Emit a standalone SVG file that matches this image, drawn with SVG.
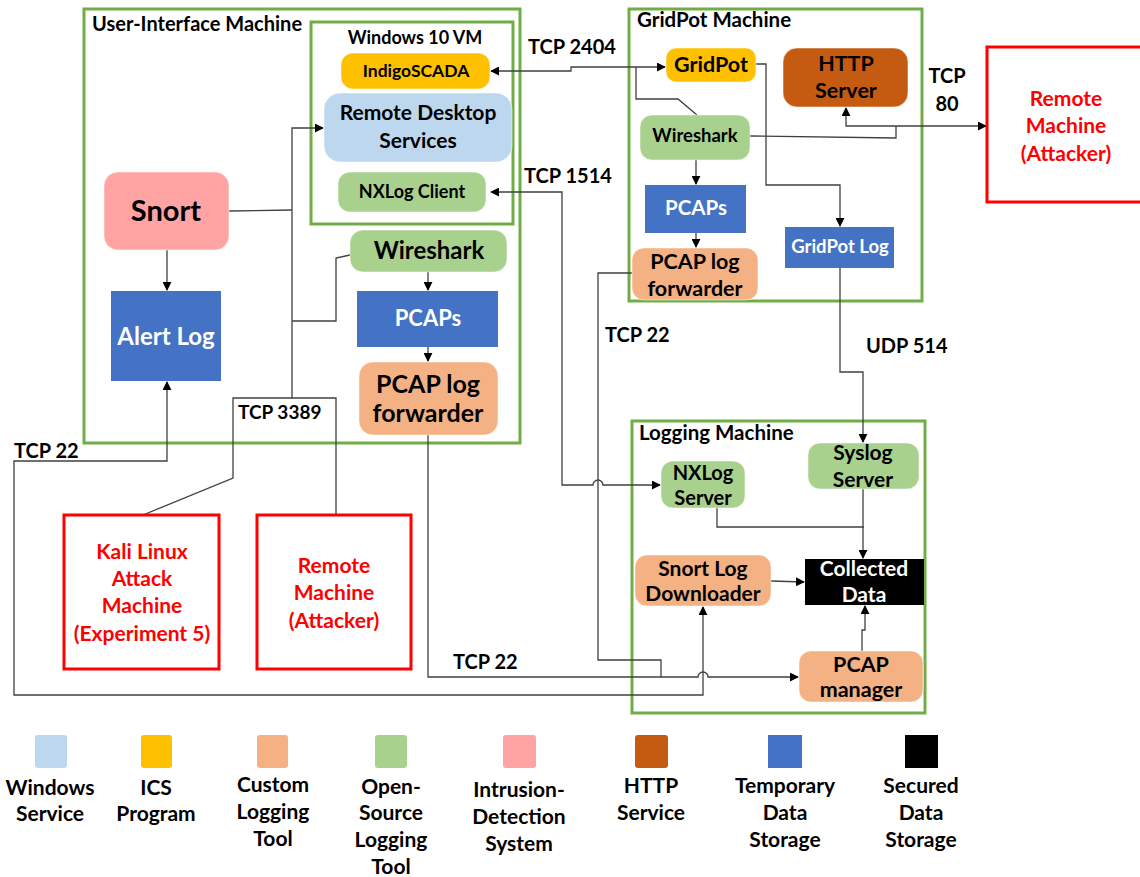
<svg xmlns="http://www.w3.org/2000/svg" width="1140" height="877" viewBox="0 0 1140 877">
<defs>
<marker id="ah" viewBox="0 0 10 10" refX="9" refY="5" markerWidth="9" markerHeight="9" markerUnits="userSpaceOnUse" orient="auto-start-reverse">
<path d="M0,0 L10,5 L0,10 z" fill="#000"/>
</marker>
<style>
text{font-family:Lato,"Open Sans","Liberation Sans",sans-serif;font-weight:bold;fill:#000;text-anchor:middle}
.title{text-anchor:start;font-size:20.5px}
.mach{fill:none;stroke:#70AD47;stroke-width:3}
.att{fill:#fff;stroke:#FF0000;stroke-width:3}
.att-t{fill:#FF0000;font-size:21px}
.win{fill:#BDD7EE}
.ics{fill:#FFC000}
.cust{fill:#F4B183}
.open{fill:#A9D18E}
.ids{fill:#FFA3A3}
.http{fill:#C55A11}
.tmp{fill:#4472C4}
.sec{fill:#000}
.n{stroke:#fff;stroke-opacity:0.5;stroke-width:1}
.wt{fill:#fff}
.lbl{font-size:20px;text-anchor:start}
.lg{font-size:21px}
#conn path{fill:none;stroke:#404040;stroke-width:1.3}
</style>
</defs>
<rect width="1140" height="877" fill="#fff"/>

<g id="ui-machine">
<rect class="mach" x="84" y="9" width="436" height="434"/>
<text class="title" x="92" y="31" style="font-size:20px">User-Interface Machine</text>
</g>
<g id="win10-vm">
<rect class="mach" x="311" y="22" width="202" height="202"/>
<text x="415" y="44" style="font-size:18px">Windows 10 VM</text>
</g>
<g id="gridpot-machine">
<rect class="mach" x="629" y="9" width="293" height="292"/>
<text class="title" x="637" y="27">GridPot Machine</text>
</g>
<g id="logging-machine">
<rect class="mach" x="632" y="421" width="293" height="292"/>
<text class="title" x="639" y="440">Logging Machine</text>
</g>

<g id="conn">
<!-- UI internal -->
<path d="M229,211 L292,210"/>
<path d="M292,398 L292,128 L323,128" marker-end="url(#ah)"/>
<path d="M350,255 L336,258 L336,321 L292,321"/>
<path d="M167,250 L167,290" marker-end="url(#ah)"/>
<path d="M428,272 L428,290" marker-end="url(#ah)"/>
<path d="M428,347 L428,361" marker-end="url(#ah)"/>
<!-- TCP 3389 -->
<path d="M143,515 L233,478 L233,398 L336,398 L336,515"/>
<!-- TCP 22 alert log / snort downloader -->
<path d="M167,382 L167,461 L14,461 L14,695 L703,695 L703,607" marker-start="url(#ah)" marker-end="url(#ah)"/>
<!-- UI PCAP forwarder to PCAP manager -->
<path d="M428,435 L428,677 L698,677 A5,5 0 0 1 708,677 L798,677" marker-end="url(#ah)"/>
<!-- GridPot PCAP forwarder -->
<path d="M632,273 L598,273 L598,660 L661,660 L661,677"/>
<!-- TCP 1514 -->
<path d="M491,192 L562,192 L562,485 L593,485 A5,5 0 0 1 603,485 L660,485" marker-start="url(#ah)" marker-end="url(#ah)"/>
<!-- TCP 2404 -->
<path d="M491,71 L571,71 L571,67 L665,67" marker-start="url(#ah)" marker-end="url(#ah)"/>
<path d="M636,67 L636,99 L678,99 L697,115"/>
<!-- GridPot internals -->
<path d="M756,64 L766,64 L766,185 L840,185 L840,226" marker-end="url(#ah)"/>
<path d="M696,160 L696,184" marker-end="url(#ah)"/>
<path d="M696,233 L696,247" marker-end="url(#ah)"/>
<!-- TCP 80 -->
<path d="M846,108 L846,126 L986,126" marker-start="url(#ah)" marker-end="url(#ah)"/>
<path d="M750,136 L896,138 L896,126"/>
<!-- UDP 514 -->
<path d="M840,268 L840,372 L863,372 L863,442" marker-end="url(#ah)"/>
<!-- Logging internals -->
<path d="M717,508 L717,527 L864,527"/>
<path d="M863,489 L863,558" marker-end="url(#ah)"/>
<path d="M771,581 L804,582" marker-end="url(#ah)"/>
<path d="M862,651 L862,630 L865,630 L865,606" marker-end="url(#ah)"/>
</g>

<g id="conn-labels">
<text class="lbl" x="238" y="419" style="font-size:19px">TCP 3389</text>
<text class="lbl" x="14" y="458">TCP 22</text>
<text class="lbl" x="453" y="669">TCP 22</text>
<text class="lbl" x="605" y="342">TCP 22</text>
<text class="lbl" x="524" y="183">TCP 1514</text>
<text class="lbl" x="528" y="54">TCP 2404</text>
<text class="lbl" x="866" y="353">UDP 514</text>
<text class="lbl" x="947" y="83" style="text-anchor:middle">TCP</text>
<text class="lbl" x="947" y="111" style="text-anchor:middle">80</text>
</g>

<g id="indigoscada"><rect class="ics n" x="341" y="53" width="149" height="36" rx="12"/><text x="416" y="77" style="font-size:17.5px">IndigoSCADA</text></g>
<g id="rds"><rect class="win n" x="324" y="93" width="188" height="69" rx="16"/><text x="418" y="120" style="font-size:21px">Remote Desktop</text><text x="418" y="148" style="font-size:21px">Services</text></g>
<g id="nxlog-client"><rect class="open n" x="338" y="172" width="148" height="40" rx="12"/><text x="412" y="198" style="font-size:18px">NXLog Client</text></g>
<g id="snort"><rect class="ids n" x="104" y="172" width="125" height="78" rx="14"/><text x="166" y="221" style="font-size:29px">Snort</text></g>
<g id="alert-log"><rect class="tmp" x="111" y="291" width="110" height="90"/><text class="wt" x="166" y="345" style="font-size:24px">Alert Log</text></g>
<g id="ui-wireshark"><rect class="open n" x="350" y="230" width="157" height="42" rx="13"/><text x="429" y="259" style="font-size:24px">Wireshark</text></g>
<g id="ui-pcaps"><rect class="tmp" x="357" y="291" width="141" height="56"/><text class="wt" x="428" y="326" style="font-size:22px">PCAPs</text></g>
<g id="ui-forwarder"><rect class="cust n" x="359" y="362" width="139" height="73" rx="14"/><text x="428" y="393" style="font-size:25px">PCAP log</text><text x="428" y="422" style="font-size:25px">forwarder</text></g>

<g id="gridpot"><rect class="ics n" x="666" y="48" width="90" height="34" rx="10"/><text x="711" y="72" style="font-size:21.5px">GridPot</text></g>
<g id="http-server"><rect class="http n" x="783" y="48" width="125" height="59" rx="14"/><text x="846" y="71" style="font-size:21.5px">HTTP</text><text x="846" y="98" style="font-size:21.5px">Server</text></g>
<g id="gp-wireshark"><rect class="open n" x="640" y="115" width="110" height="45" rx="12"/><text x="695" y="142" style="font-size:18.5px">Wireshark</text></g>
<g id="gp-pcaps"><rect class="tmp" x="645" y="185" width="101" height="48"/><text class="wt" x="696" y="215" style="font-size:20.5px">PCAPs</text></g>
<g id="gp-forwarder"><rect class="cust n" x="632" y="248" width="126" height="52" rx="12"/><text x="695" y="269" style="font-size:21.5px">PCAP log</text><text x="695" y="296" style="font-size:21.5px">forwarder</text></g>
<g id="gridpot-log"><rect class="tmp" x="785" y="227" width="109" height="41"/><text class="wt" x="840" y="253" style="font-size:18.5px">GridPot Log</text></g>

<g id="remote-right"><rect class="att" x="987" y="47" width="160" height="155"/><text class="att-t" x="1066" y="106">Remote</text><text class="att-t" x="1066" y="133">Machine</text><text class="att-t" x="1066" y="161">(Attacker)</text></g>
<g id="kali"><rect class="att" x="64" y="515" width="155" height="154"/><text class="att-t" x="142" y="559">Kali Linux</text><text class="att-t" x="142" y="586">Attack</text><text class="att-t" x="142" y="613">Machine</text><text class="att-t" x="142" y="641">(Experiment 5)</text></g>
<g id="remote-bottom"><rect class="att" x="257" y="515" width="154" height="154"/><text class="att-t" x="334" y="573">Remote</text><text class="att-t" x="334" y="600">Machine</text><text class="att-t" x="334" y="628">(Attacker)</text></g>

<g id="nxlog-server"><rect class="open n" x="661" y="461" width="84" height="47" rx="12"/><text x="703" y="480" style="font-size:20px">NXLog</text><text x="703" y="505" style="font-size:20px">Server</text></g>
<g id="syslog-server"><rect class="open n" x="808" y="443" width="111" height="46" rx="12"/><text x="863" y="460" style="font-size:21px">Syslog</text><text x="863" y="487" style="font-size:21px">Server</text></g>
<g id="snort-log-downloader"><rect class="cust n" x="635" y="555" width="136" height="51" rx="12"/><text x="703" y="576" style="font-size:21px">Snort Log</text><text x="703" y="601" style="font-size:21px">Downloader</text></g>
<g id="collected-data"><rect class="sec" x="805" y="559" width="119" height="46"/><text class="wt" x="864" y="576" style="font-size:21px">Collected</text><text class="wt" x="864" y="602" style="font-size:21px">Data</text></g>
<g id="pcap-manager"><rect class="cust n" x="799" y="651" width="124" height="51" rx="12"/><text x="861" y="672" style="font-size:21.5px">PCAP</text><text x="861" y="697" style="font-size:21.5px">manager</text></g>

<g id="legend">
<rect class="win" x="35" y="735" width="32" height="33" rx="3"/>
<rect class="ics" x="141" y="735" width="31" height="33" rx="3"/>
<rect class="cust" x="257" y="735" width="31" height="33" rx="3"/>
<rect class="open" x="375" y="735" width="32" height="33" rx="3"/>
<rect class="ids" x="503" y="735" width="33" height="33" rx="3"/>
<rect class="http" x="635" y="735" width="33" height="33" rx="3"/>
<rect class="tmp" x="768" y="735" width="34" height="33"/>
<rect class="sec" x="905" y="735" width="33" height="33"/>
<text class="lg" x="50" y="795">Windows</text><text class="lg" x="50" y="821">Service</text>
<text class="lg" x="156" y="795">ICS</text><text class="lg" x="156" y="821">Program</text>
<text class="lg" x="273" y="792">Custom</text><text class="lg" x="273" y="819">Logging</text><text class="lg" x="273" y="846">Tool</text>
<text class="lg" x="391" y="794">Open-</text><text class="lg" x="391" y="820">Source</text><text class="lg" x="391" y="847">Logging</text><text class="lg" x="391" y="874">Tool</text>
<text class="lg" x="519" y="797">Intrusion-</text><text class="lg" x="519" y="824">Detection</text><text class="lg" x="519" y="851">System</text>
<text class="lg" x="651" y="793">HTTP</text><text class="lg" x="651" y="820">Service</text>
<text class="lg" x="785" y="793">Temporary</text><text class="lg" x="785" y="820">Data</text><text class="lg" x="785" y="847">Storage</text>
<text class="lg" x="921" y="793">Secured</text><text class="lg" x="921" y="820">Data</text><text class="lg" x="921" y="847">Storage</text>
</g>
</svg>
